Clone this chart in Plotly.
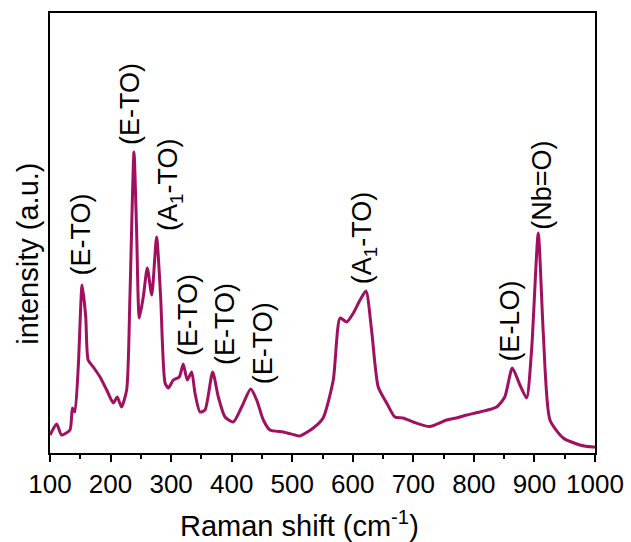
import plotly.graph_objects as go

# Raman spectrum, intensity in arbitrary units
shift = [100, 111, 119, 133, 137, 141, 147, 153, 159, 163, 171.5, 182.6, 193.6, 204.6, 211, 218,
         226.6, 232, 238.7, 243, 247.5, 254, 260.7, 268, 276, 282.7, 290, 295.4, 303.6, 313.5,
         320, 326.7, 334, 339.4, 347.7, 356, 368.6, 378, 389, 402.7, 416.5, 431.4, 441.3, 452.3,
         463.3, 485.3, 504.6, 512.8, 534.8, 551, 567.8, 579, 590, 601, 612, 621.8, 631, 642, 656,
         669.5, 683, 700, 727, 755, 771, 788, 810, 837.5, 851, 863.4, 876, 887, 895.3, 906.3,
         914.6, 925.6, 947.6, 975, 997, 1000]
intensity = [18, 29, 18, 23, 45, 41, 90, 168, 136, 93, 86, 76, 63, 50, 56, 46,
             63, 156, 301, 223, 135, 156, 185, 158, 216, 156, 70, 65, 73, 76,
             89, 73, 81, 60, 41, 43, 81, 56, 36, 31, 46, 64, 53, 33,
             23, 21, 18, 17, 25, 35, 73, 135, 131, 140, 153, 162, 123, 66, 50,
             36, 35, 31, 26.5, 33, 35, 38, 41, 46, 56, 85, 68, 55, 103, 220,
             120, 33, 15, 8, 6, 6]

label_text = ["(E-TO)", "(E-TO)", "(A<sub>1</sub>-TO)", "(E-TO)", "(E-TO)", "(E-TO)",
              "(A<sub>1</sub>-TO)", "(E-LO)", "(Nb=O)"]
label_x = [152, 232, 298, 328, 389, 452, 619, 859, 912]
label_y = [219, 349, 269, 138, 129, 110, 215, 132, 268]

x_ticks = list(range(100, 1001, 100))

FONT = "Liberation Sans, Arial, sans-serif"
LINE_COLOR = "#a0105f"

fig = go.Figure()
fig.add_trace(go.Scatter(x=shift, y=intensity, mode="lines",
                         line=dict(color=LINE_COLOR, width=3, shape="spline", smoothing=0.6),
                         showlegend=False, hoverinfo="skip"))

for t, lx, ly in zip(label_text, label_x, label_y):
    fig.add_annotation(x=lx, y=ly, xref="x", yref="y", text=t, showarrow=False,
                       textangle=-90, xanchor="center", yanchor="middle",
                       font=dict(family=FONT, size=27, color="black"))

# axis titles
fig.add_annotation(x=0.457, y=-0.161, xref="paper", yref="paper",
                   text="Raman shift (cm<sup>-1</sup>)", showarrow=False,
                   xanchor="center", yanchor="middle",
                   font=dict(family=FONT, size=29, color="black"))
fig.add_annotation(x=-0.0394, y=0.452, xref="paper", yref="paper",
                   text="intensity (a.u.)", showarrow=False, textangle=-90,
                   xanchor="center", yanchor="middle",
                   font=dict(family=FONT, size=29, color="black"))

fig.update_layout(
    width=631, height=542,
    margin=dict(l=50, r=36, t=13, b=89, autoexpand=False),
    paper_bgcolor="white", plot_bgcolor="white",
    font=dict(family=FONT, color="black"),
)
fig.update_xaxes(range=[100, 1000], tickvals=x_ticks, ticktext=[str(v) for v in x_ticks],
                 ticks="outside", ticklen=7, tickwidth=1.5, tickcolor="black",
                 minor=dict(dtick=50, tick0=100, ticks="outside", ticklen=4, tickwidth=1.5, tickcolor="black"),
                 showline=True, linecolor="black", linewidth=1.5, mirror=True,
                 showgrid=False, zeroline=False, automargin=False,
                 tickfont=dict(family=FONT, size=26, color="black"))
fig.update_yaxes(range=[0, 440], showticklabels=False, ticks="",
                 showline=True, linecolor="black", linewidth=1.5, mirror=True,
                 showgrid=False, zeroline=False, automargin=False)

fig.write_html("out.html")
